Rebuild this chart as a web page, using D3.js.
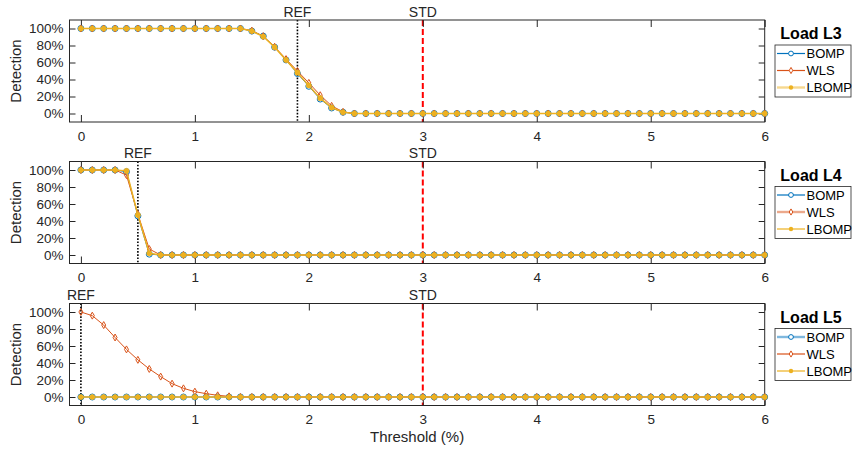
<!DOCTYPE html>
<html>
<head>
<meta charset="utf-8">
<script src="https://cdn.jsdelivr.net/npm/d3@7"></script>
<style>
  html, body { margin: 0; padding: 0; background: #fff; }
  svg { display: block; font-family: "Liberation Sans", Arial, Helvetica, sans-serif; }
</style>
</head>
<body>
<svg id="chart" width="852" height="450"></svg>
<script>
// Detection rate vs. threshold for three load cases
const thresholds = [
  0.0,0.1,0.2,0.3,0.4,0.5,0.6,0.7,0.8,0.9,
  1.0,1.1,1.2,1.3,1.4,1.5,1.6,1.7,1.8,1.9,
  2.0,2.1,2.2,2.3,2.4,2.5,2.6,2.7,2.8,2.9,
  3.0,3.1,3.2,3.3,3.4,3.5,3.6,3.7,3.8,3.9,
  4.0,4.1,4.2,4.3,4.4,4.5,4.6,4.7,4.8,4.9,
  5.0,5.1,5.2,5.3,5.4,5.5,5.6,5.7,5.8,5.9,
  6.0
];
const seriesNames = ["BOMP", "WLS", "LBOMP"];
const loadNames = ["Load L3", "Load L4", "Load L5"];
const refValues = [1.9, 0.5, 0];
const stdValue = 3;
const xTicks = [0, 1, 2, 3, 4, 5, 6];
const yTicks = [0, 20, 40, 60, 80, 100];

// Load L3
const l3Bomp = [
  100,100,100,100,100,100,100,100,100,100,
  100,100,100,100,100,97,91,78,63,47,
  32,17,6.5,1.5,0,0,0,0,0,0,
  0,0,0,0,0,0,0,0,0,0,
  0,0,0,0,0,0,0,0,0,0,
  0,0,0,0,0,0,0,0,0,0,
  0
];
const l3Wls = [
  100,100,100,100,100,100,100,100,100,100,
  100,100,100,100,100,97.5,91,78.5,64,50,
  36,21.5,9,2,0,0,0,0,0,0,
  0,0,0,0,0,0,0,0,0,0,
  0,0,0,0,0,0,0,0,0,0,
  0,0,0,0,0,0,0,0,0,0,
  0
];
const l3Lbomp = [
  100,100,100,100,100,100,100,100,100,100,
  100,100,100,100,100,97,90.5,78,63,48,
  33,18,7,1.5,0,0,0,0,0,0,
  0,0,0,0,0,0,0,0,0,0,
  0,0,0,0,0,0,0,0,0,0,
  0,0,0,0,0,0,0,0,0,0,
  0
];

// Load L4
const l4Bomp = [
  100,100,100,100,98,46,1,0,0,0,
  0,0,0,0,0,0,0,0,0,0,
  0,0,0,0,0,0,0,0,0,0,
  0,0,0,0,0,0,0,0,0,0,
  0,0,0,0,0,0,0,0,0,0,
  0,0,0,0,0,0,0,0,0,0,
  0
];
const l4Wls = [
  100,100,100,100,94,48,7,0,0,0,
  0,0,0,0,0,0,0,0,0,0,
  0,0,0,0,0,0,0,0,0,0,
  0,0,0,0,0,0,0,0,0,0,
  0,0,0,0,0,0,0,0,0,0,
  0,0,0,0,0,0,0,0,0,0,
  0
];
const l4Lbomp = [
  100,100,100,100,99,47,2,0,0,0,
  0,0,0,0,0,0,0,0,0,0,
  0,0,0,0,0,0,0,0,0,0,
  0,0,0,0,0,0,0,0,0,0,
  0,0,0,0,0,0,0,0,0,0,
  0,0,0,0,0,0,0,0,0,0,
  0
];

// Load L5
const l5Bomp = [
  0,0,0,0,0,0,0,0,0,0,
  0,0,0,0,0,0,0,0,0,0,
  0,0,0,0,0,0,0,0,0,0,
  0,0,0,0,0,0,0,0,0,0,
  0,0,0,0,0,0,0,0,0,0,
  0,0,0,0,0,0,0,0,0,0,
  0
];
const l5Wls = [
  100,95.7,84.6,70,56,43.7,33,24,15.7,10.2,
  6.3,3.9,2,0.8,0,0,0,0,0,0,
  0,0,0,0,0,0,0,0,0,0,
  0,0,0,0,0,0,0,0,0,0,
  0,0,0,0,0,0,0,0,0,0,
  0,0,0,0,0,0,0,0,0,0,
  0
];
const l5Lbomp = [
  0,0,0,0,0,0,0,0,0,0,
  0,0,0,0,0,0,0,0,0,0,
  0,0,0,0,0,0,0,0,0,0,
  0,0,0,0,0,0,0,0,0,0,
  0,0,0,0,0,0,0,0,0,0,
  0,0,0,0,0,0,0,0,0,0,
  0
];

const panelSeries = [
  [l3Bomp, l3Wls, l3Lbomp],
  [l4Bomp, l4Wls, l4Lbomp],
  [l5Bomp, l5Wls, l5Lbomp]
];
// legend entry drawn with a wide, pale sample line in each panel
const highlighted = [2, 1, 0];

const colors = ["#0072BD", "#D95319", "#EDB120"];
const axisColor = "#262626";

const svg = d3.select("#chart");
const left = 69.5, right = 764.7;
const panelTops = [20, 161.5, 303.5];
const panelH = 102;

const x = d3.scaleLinear().domain([-0.1, 6]).range([left, right]);

const diamond = d3.symbol().type(d3.symbolDiamond).size(14);
const diamondSmall = d3.symbol().type(d3.symbolDiamond).size(11);

panelTops.forEach((top, p) => {
  const bottom = top + panelH;
  const y = d3.scaleLinear().domain([-10, 110]).range([bottom, top]);
  const g = svg.append("g");

  // reference lines
  g.append("line")
    .attr("x1", x(refValues[p])).attr("x2", x(refValues[p]))
    .attr("y1", top).attr("y2", bottom)
    .attr("stroke", "#000").attr("stroke-width", 1.6)
    .attr("stroke-dasharray", "1.6,1.6");
  g.append("line")
    .attr("x1", x(stdValue)).attr("x2", x(stdValue))
    .attr("y1", top).attr("y2", bottom)
    .attr("stroke", "#FF0000").attr("stroke-width", 2)
    .attr("stroke-dasharray", "6,3");

  // axes (ticks pointing inward on all four sides)
  const xb = g.append("g").attr("transform", `translate(0,${bottom})`)
    .call(d3.axisBottom(x).tickValues(xTicks).tickSize(-7).tickSizeOuter(0).tickPadding(9).tickFormat(d3.format("d")));
  const xt = g.append("g").attr("transform", `translate(0,${top})`)
    .call(d3.axisTop(x).tickValues(xTicks).tickSize(-7).tickSizeOuter(0).tickFormat(""));
  const yl = g.append("g").attr("transform", `translate(${left},0)`)
    .call(d3.axisLeft(y).tickValues(yTicks).tickSize(-6).tickSizeOuter(0).tickPadding(6).tickFormat(d => d + "%"));
  const yr = g.append("g").attr("transform", `translate(${right},0)`)
    .call(d3.axisRight(y).tickValues(yTicks).tickSize(-6).tickSizeOuter(0).tickFormat(""));
  [xb, xt, yl, yr].forEach(a => {
    a.select(".domain").remove();
    a.selectAll(".tick line").attr("stroke", axisColor).attr("stroke-width", 1);
    a.selectAll(".tick text").attr("fill", axisColor).style("font-size", "13.5px")
      .style("font-family", "'Liberation Sans', Arial, sans-serif");
  });

  g.append("rect")
    .attr("x", left).attr("y", top).attr("width", right - left).attr("height", panelH)
    .attr("fill", "none").attr("stroke", axisColor).attr("stroke-width", 1);

  // labels above the box
  g.append("text").attr("x", x(refValues[p])).attr("y", top - 3.5)
    .attr("text-anchor", "middle").attr("fill", axisColor).style("font-size", "14px").text("REF");
  g.append("text").attr("x", x(stdValue)).attr("y", top - 3.5)
    .attr("text-anchor", "middle").attr("fill", axisColor).style("font-size", "14px").text("STD");

  g.append("text")
    .attr("transform", `translate(21,${(top + bottom) / 2}) rotate(-90)`)
    .attr("text-anchor", "middle").attr("fill", axisColor).style("font-size", "15px").text("Detection");

  // data series
  const line = d3.line().x((d, i) => x(thresholds[i])).y(d => y(d));
  panelSeries[p].forEach((vals, s) => {
    const sg = g.append("g");
    sg.append("path").datum(vals)
      .attr("d", line).attr("fill", "none")
      .attr("stroke", colors[s]).attr("stroke-width", s === 2 ? 1.5 : 1);
    if (s === 0) {
      sg.selectAll("circle").data(vals).join("circle")
        .attr("cx", (d, i) => x(thresholds[i])).attr("cy", d => y(d)).attr("r", 3)
        .attr("fill", "none").attr("stroke", colors[s]).attr("stroke-width", 1);
    } else if (s === 1) {
      sg.selectAll("path.m").data(vals).join("path").attr("class", "m")
        .attr("d", diamond)
        .attr("transform", (d, i) => `translate(${x(thresholds[i])},${y(d)})`)
        .attr("fill", "none").attr("stroke", colors[s]).attr("stroke-width", 1);
    } else {
      sg.selectAll("circle").data(vals).join("circle")
        .attr("cx", (d, i) => x(thresholds[i])).attr("cy", d => y(d)).attr("r", 2.6)
        .attr("fill", colors[s]).attr("stroke", colors[s]).attr("stroke-width", 0.6);
    }
  });

  // legend
  const lgX = 775, lgW = 76, lgTop = top + 25, lgH = 52;
  const lg = svg.append("g");
  lg.append("text").attr("x", 811).attr("y", lgTop - 6).attr("text-anchor", "middle")
    .attr("fill", "#000").style("font-size", "16px").style("font-weight", "bold").text(loadNames[p]);
  lg.append("rect").attr("x", lgX).attr("y", lgTop).attr("width", lgW).attr("height", lgH)
    .attr("fill", "#fff").attr("stroke", axisColor).attr("stroke-width", 0.8);
  seriesNames.forEach((name, s) => {
    const ry = lgTop + 8.5 + s * 17;
    const hl = highlighted[p] === s;
    lg.append("line").attr("x1", 777).attr("x2", 805).attr("y1", ry).attr("y2", ry)
      .attr("stroke", colors[s]).attr("stroke-width", hl ? 2.4 : 1.2)
      .attr("stroke-opacity", hl ? 0.5 : 1);
    if (s === 0) {
      lg.append("circle").attr("cx", 791).attr("cy", ry).attr("r", 2.4)
        .attr("fill", "#fff").attr("stroke", colors[s]).attr("stroke-width", 1);
    } else if (s === 1) {
      lg.append("path").attr("d", diamondSmall).attr("transform", `translate(791,${ry})`)
        .attr("fill", "#fff").attr("stroke", colors[s]).attr("stroke-width", 1);
    } else {
      lg.append("circle").attr("cx", 791).attr("cy", ry).attr("r", 2.2)
        .attr("fill", colors[s]);
    }
    lg.append("text").attr("x", 806.5).attr("y", ry + 4.6).attr("fill", "#000")
      .style("font-size", "13px").text(name);
  });
});

svg.append("text").attr("x", (left + right) / 2).attr("y", 442)
  .attr("text-anchor", "middle").attr("fill", axisColor).style("font-size", "15px").text("Threshold (%)");
</script>
</body>
</html>
